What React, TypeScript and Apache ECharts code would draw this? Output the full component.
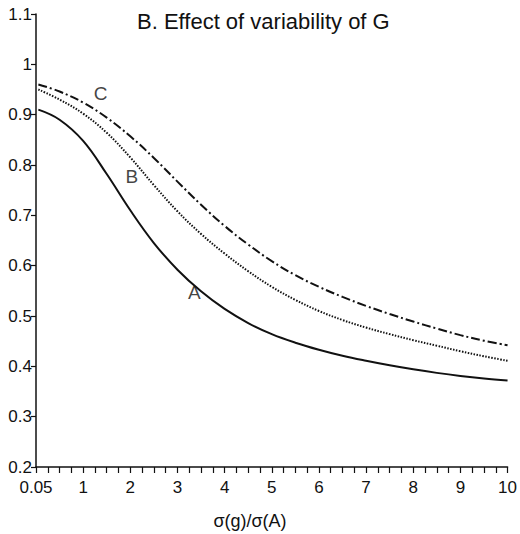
import React, { useEffect, useRef } from "react";
import * as echarts from "echarts";

const xValues = [0.05, 0.5, 1, 1.5, 2, 2.5, 3, 3.5, 4, 4.5, 5, 5.5, 6, 6.5, 7, 7.5, 8, 8.5, 9, 9.5, 10];
const seriesA = [0.91, 0.89, 0.848, 0.782, 0.71, 0.645, 0.592, 0.549, 0.514, 0.486, 0.464, 0.447, 0.433, 0.421, 0.411, 0.402, 0.394, 0.387, 0.381, 0.376, 0.372];
const seriesB = [0.95, 0.93, 0.902, 0.864, 0.815, 0.76, 0.708, 0.663, 0.624, 0.589, 0.558, 0.532, 0.51, 0.492, 0.477, 0.464, 0.452, 0.441, 0.43, 0.42, 0.411];
const seriesC = [0.96, 0.946, 0.924, 0.894, 0.857, 0.814, 0.767, 0.721, 0.679, 0.642, 0.609, 0.581, 0.558, 0.538, 0.52, 0.504, 0.489, 0.475, 0.462, 0.451, 0.442];
const curveLabels = ["A", "B", "C"];
const curveLabelX = [3.36, 2.03, 1.37];
const curveLabelY = [0.546, 0.778, 0.943];
const xTickFirstLabel = "0.05";
const titleText = "B. Effect of variability of G";
const xAxisTitle = "σ(g)/σ(A)";

const FONT = "'Liberation Sans', Arial, sans-serif";

export default function App() {
  const ref = useRef<HTMLDivElement>(null);
  useEffect(() => {
    if (!ref.current) return;
    const chart = echarts.init(ref.current, null, { renderer: "svg" });
    const pair = (ys: number[]) => xValues.map((x, i) => [x, ys[i]]);
    chart.setOption({
      animation: false,
      backgroundColor: "#ffffff",
      textStyle: { fontFamily: FONT },
      title: {
        text: titleText,
        left: 137,
        top: 10,
        padding: 0,
        textStyle: { fontFamily: FONT, fontSize: 22, fontWeight: "normal", color: "#111" },
      },
      graphic: [
        {
          type: "text",
          x: 250,
          y: 521,
          style: {
            text: xAxisTitle,
            fontFamily: FONT,
            fontSize: 18,
            fill: "#111",
            textAlign: "center",
            textVerticalAlign: "middle",
          },
        },
      ],
      grid: { left: 36, right: 11, top: 14, bottom: 67, containLabel: false },
      xAxis: {
        type: "value",
        min: 0,
        max: 10,
        interval: 1,
        axisLine: { show: true, onZero: false, lineStyle: { color: "#111", width: 1.5 } },
        axisTick: { show: true, inside: false, length: 6, lineStyle: { color: "#111", width: 1.2 } },
        minorTick: { show: true, splitNumber: 4, length: 6, lineStyle: { color: "#111", width: 1.2 } },
        splitLine: { show: false },
        axisLabel: {
          margin: 12,
          fontSize: 17,
          color: "#111",
          fontFamily: FONT,
          formatter: (v: number) => (v === 0 ? xTickFirstLabel : String(v)),
        },
      },
      yAxis: {
        type: "value",
        min: 0.2,
        max: 1.1,
        interval: 0.1,
        axisLine: { show: true, onZero: false, lineStyle: { color: "#111", width: 1.5 } },
        axisTick: { show: true, inside: false, length: 5, lineStyle: { color: "#111", width: 1.2 } },
        splitLine: { show: false },
        axisLabel: {
          margin: 4,
          fontSize: 17,
          color: "#111",
          fontFamily: FONT,
          formatter: (v: number) => String(Math.round(v * 10) / 10),
        },
      },
      series: [
        {
          name: "A",
          type: "line",
          smooth: 0.4,
          showSymbol: false,
          data: pair(seriesA),
          lineStyle: { color: "#111", width: 2, type: "solid" },
        },
        {
          name: "B",
          type: "line",
          smooth: 0.4,
          showSymbol: false,
          data: pair(seriesB),
          lineStyle: { color: "#111", width: 2, type: [1.5, 1.5] },
        },
        {
          name: "C",
          type: "line",
          smooth: 0.4,
          showSymbol: false,
          data: pair(seriesC),
          lineStyle: { color: "#111", width: 2, type: [9, 3, 2, 3] },
        },
        {
          type: "scatter",
          symbolSize: 1,
          itemStyle: { color: "rgba(0,0,0,0)" },
          data: curveLabels.map((n, i) => ({ name: n, value: [curveLabelX[i], curveLabelY[i]] })),
          label: {
            show: true,
            position: "inside",
            formatter: (p: any) => p.name,
            fontFamily: FONT,
            fontSize: 19,
            color: "#111",
          },
          silent: true,
        },
      ],
    });
    return () => chart.dispose();
  }, []);
  return <div ref={ref} style={{ width: 520, height: 534, position: "absolute", left: 0, top: 0 }} />;
}
